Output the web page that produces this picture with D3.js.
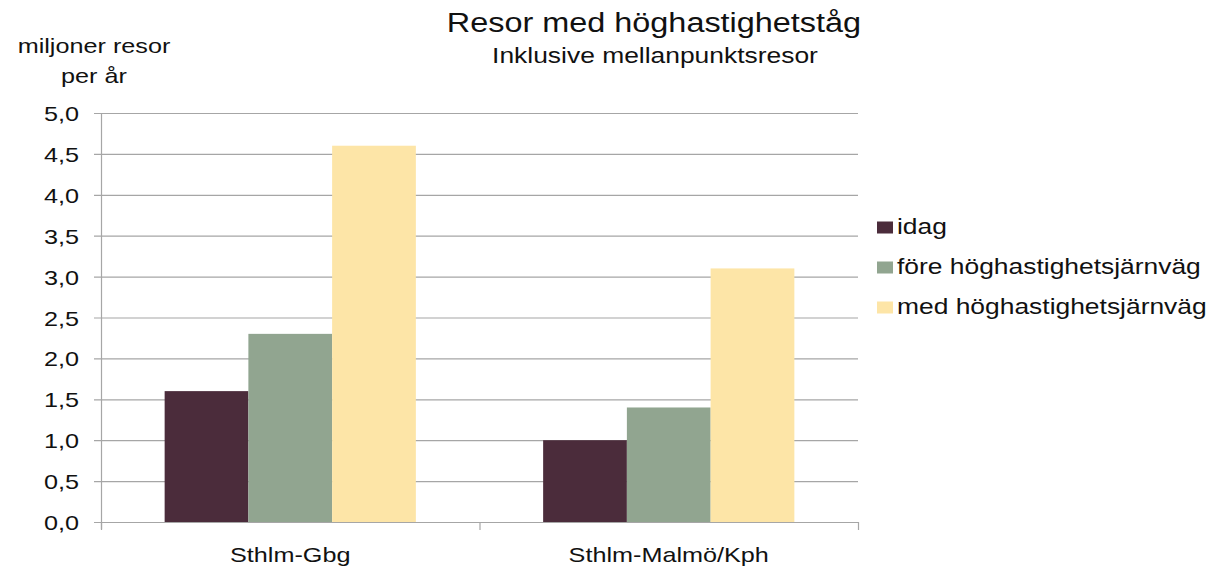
<!DOCTYPE html>
<html>
<head>
<meta charset="utf-8">
<script src="https://cdn.jsdelivr.net/npm/d3@7"></script>
<style>
  body { margin: 0; background: #fff; }
  svg text { font-family: "Liberation Sans", Arial, sans-serif; fill: #111; }
</style>
</head>
<body>
<svg id="chart" width="1212" height="568"></svg>
<script>
const categories = ["Sthlm-Gbg", "Sthlm-Malmö/Kph"];
const seriesNames = ["idag", "före höghastighetsjärnväg", "med höghastighetsjärnväg"];
const idag = [1.6, 1.0];
const fore = [2.3, 1.4];
const med = [4.6, 3.1];
const yTicks = [0, 0.5, 1, 1.5, 2, 2.5, 3, 3.5, 4, 4.5, 5];
const colors = ["#4b2c3b", "#91a590", "#fde5a7"];

const values = [idag, fore, med];
const svg = d3.select("#chart");
const plotL = 101, plotR = 858, plotT = 113, plotB = 522;
// the source picture is stretched horizontally, so text is widened to fit
const hStretch = 1.2;

const x = d3.scaleBand().domain(categories).range([plotL, plotR]);
const xi = d3.scaleBand().domain(seriesNames).range([0, x.bandwidth()]).paddingOuter(0.76).paddingInner(0);
const y = d3.scaleLinear().domain([0, 5]).range([plotB, plotT]);

function stretch(sel) {
  sel.each(function() {
    const w = this.getComputedTextLength();
    d3.select(this).attr("textLength", w * hStretch).attr("lengthAdjust", "spacingAndGlyphs");
  });
  return sel;
}

// gridlines
svg.append("g").selectAll("line").data(yTicks).join("line")
  .attr("x1", plotL - 7).attr("x2", plotR)
  .attr("y1", d => y(d) + 0.5).attr("y2", d => y(d) + 0.5)
  .attr("stroke", "#a6a6a6").attr("stroke-width", 1.2);

// bars
categories.forEach((c, ci) => {
  svg.append("g").selectAll("rect").data(seriesNames).join("rect")
    .attr("x", s => x(c) + xi(s))
    .attr("width", xi.bandwidth())
    .attr("y", (s, si) => y(values[si][ci]))
    .attr("height", (s, si) => plotB - y(values[si][ci]))
    .attr("fill", (s, si) => colors[si]);
});

// axes lines
svg.append("line").attr("x1", plotL + 0.5).attr("x2", plotL + 0.5).attr("y1", plotT).attr("y2", plotB + 7)
  .attr("stroke", "#a6a6a6").attr("stroke-width", 1.2);
svg.append("line").attr("x1", plotL).attr("x2", plotR).attr("y1", plotB + 0.5).attr("y2", plotB + 0.5)
  .attr("stroke", "#a6a6a6").attr("stroke-width", 1.2);
[...categories.map(c => x(c)), plotR].forEach(px => {
  svg.append("line").attr("x1", px + 0.5).attr("x2", px + 0.5).attr("y1", plotB).attr("y2", plotB + 8)
    .attr("stroke", "#a6a6a6").attr("stroke-width", 1.2);
});

// y tick labels
const fmt = d => d3.format(".1f")(d).replace(".", ",");
stretch(svg.append("g").selectAll("text").data(yTicks).join("text")
  .attr("x", 79).attr("y", d => y(d) + 8)
  .attr("text-anchor", "end").attr("font-size", 21).text(fmt));

// x labels
stretch(svg.append("g").selectAll("text").data(categories).join("text")
  .attr("x", c => x(c) + x.bandwidth() / 2).attr("y", 562)
  .attr("text-anchor", "middle").attr("font-size", 21).text(c => c));

// titles
stretch(svg.append("text").attr("x", 654).attr("y", 32).attr("text-anchor", "middle")
  .attr("font-size", 27).text("Resor med höghastighetståg"));
stretch(svg.append("text").attr("x", 655).attr("y", 63).attr("text-anchor", "middle")
  .attr("font-size", 22).text("Inklusive mellanpunktsresor"));

// y axis title
stretch(svg.append("text").attr("x", 94).attr("y", 53).attr("text-anchor", "middle")
  .attr("font-size", 21).text("miljoner resor"));
stretch(svg.append("text").attr("x", 94).attr("y", 83).attr("text-anchor", "middle")
  .attr("font-size", 21).text("per år"));

// legend
const legend = svg.append("g").selectAll("g").data(seriesNames).join("g")
  .attr("transform", (d, i) => `translate(877, ${227.5 + i * 40})`);
legend.append("rect").attr("x", 0).attr("y", -6).attr("width", 16).attr("height", 12)
  .attr("fill", (d, i) => colors[i]);
stretch(legend.append("text").attr("x", 20).attr("y", 6).attr("font-size", 22).text(d => d));
</script>
</body>
</html>
